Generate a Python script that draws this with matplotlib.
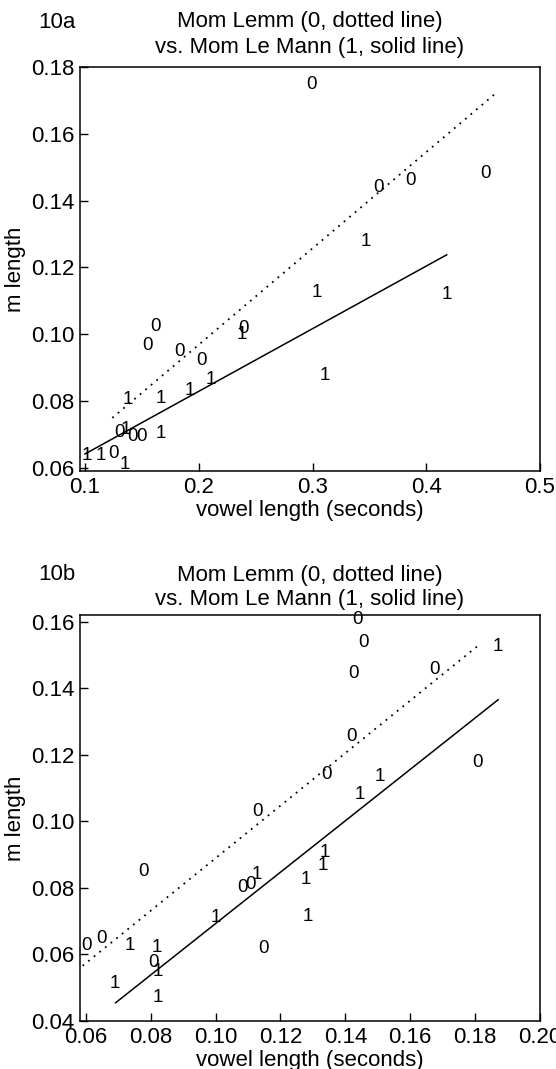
import matplotlib
matplotlib.use("Agg")
import matplotlib.pyplot as plt

plt.rcParams['font.family'] = ['Liberation Sans', 'DejaVu Sans']

# ---------------- Figure 10a data ----------------
a_lemm_x = [0.299, 0.358, 0.386, 0.452, 0.162, 0.155, 0.183, 0.202, 0.239,
            0.130, 0.142, 0.150, 0.125]
a_lemm_y = [0.1749, 0.1439, 0.1460, 0.1480, 0.1024, 0.0967, 0.0949, 0.0922, 0.1018,
            0.0705, 0.0693, 0.0693, 0.0642]
a_mann_x = [0.347, 0.304, 0.418, 0.238, 0.138, 0.167, 0.192, 0.211, 0.311,
            0.136, 0.167, 0.102, 0.114, 0.135]
a_mann_y = [0.1277, 0.1126, 0.1120, 0.1000, 0.0805, 0.0808, 0.0832, 0.0865, 0.0877,
            0.0714, 0.0702, 0.0636, 0.0636, 0.0609]
a_fit_lemm_x = [0.124, 0.462]
a_fit_lemm_y = [0.0750, 0.1724]
a_fit_mann_x = [0.100, 0.418]
a_fit_mann_y = [0.0642, 0.1238]
a_xticks = [0.1, 0.2, 0.3, 0.4, 0.5]
a_xticklabels = ['0.1', '0.2', '0.3', '0.4', '0.5']
a_yticks = [0.06, 0.08, 0.10, 0.12, 0.14, 0.16, 0.18]
a_yticklabels = ['0.06', '0.08', '0.10', '0.12', '0.14', '0.16', '0.18']

# ---------------- Figure 10b data ----------------
b_lemm_x = [0.0778, 0.1083, 0.1108, 0.1148, 0.0603, 0.0649, 0.0809, 0.1437, 0.1455,
            0.1425, 0.1674, 0.1418, 0.1341, 0.1806, 0.1130]
b_lemm_y = [0.0848, 0.0800, 0.0809, 0.0617, 0.0626, 0.0647, 0.0574, 0.1606, 0.1537,
            0.1444, 0.1456, 0.1254, 0.1140, 0.1176, 0.1029]
b_mann_x = [0.1126, 0.1277, 0.1329, 0.1338, 0.1283, 0.1000, 0.0735, 0.0818, 0.0822,
            0.0689, 0.0822, 0.1871, 0.1505, 0.1446]
b_mann_y = [0.0839, 0.0824, 0.0866, 0.0905, 0.0713, 0.0710, 0.0626, 0.0620, 0.0547,
            0.0511, 0.0469, 0.1525, 0.1134, 0.1080]
b_fit_lemm_x = [0.059, 0.1812]
b_fit_lemm_y = [0.0565, 0.1531]
b_fit_mann_x = [0.0692, 0.1871]
b_fit_mann_y = [0.0454, 0.1366]
b_xticks = [0.06, 0.08, 0.10, 0.12, 0.14, 0.16, 0.18, 0.20]
b_xticklabels = ['0.06', '0.08', '0.10', '0.12', '0.14', '0.16', '0.18', '0.20']
b_yticks = [0.04, 0.06, 0.08, 0.10, 0.12, 0.14, 0.16]
b_yticklabels = ['0.04', '0.06', '0.08', '0.10', '0.12', '0.14', '0.16']

title1 = 'Mom Lemm (0, dotted line)'
title2 = 'vs. Mom Le Mann (1, solid line)'

W, H = 556, 1069
fig = plt.figure(figsize=(W / 100, H / 100), dpi=100)

FS = 16
MFS = 13.5


def px_axes(l, t, r, b):
    return fig.add_axes([l / W, 1 - b / H, (r - l) / W, (b - t) / H])


def draw(ax, lx, ly, mx, my, flx, fly, fmx, fmy, xt, xtl, yt, ytl, xlim, ylim):
    ax.set_xlim(*xlim)
    ax.set_ylim(*ylim)
    for x, y in zip(lx, ly):
        ax.text(x, y, '0', ha='center', va='center', fontsize=MFS)
    for x, y in zip(mx, my):
        ax.text(x, y, '1', ha='center', va='center', fontsize=MFS)
    ax.plot(flx, fly, color='black', lw=1.3, linestyle=(0, (1, 3)))
    ax.plot(fmx, fmy, color='black', lw=1.1, linestyle='-')
    ax.set_xticks(xt)
    ax.set_xticklabels(xtl)
    ax.set_yticks(yt)
    ax.set_yticklabels(ytl)
    ax.tick_params(direction='in', length=6, width=1, labelsize=FS,
                   top=False, right=False)
    ax.tick_params(axis='x', pad=4)
    ax.tick_params(axis='y', pad=4)
    for s in ax.spines.values():
        s.set_linewidth(1.1)
    ax.set_xlabel('vowel length (seconds)', fontsize=FS, labelpad=1.5)
    ax.set_ylabel('m length', fontsize=FS, labelpad=4)


ax1 = px_axes(80, 67, 540, 471)
draw(ax1, a_lemm_x, a_lemm_y, a_mann_x, a_mann_y, a_fit_lemm_x, a_fit_lemm_y,
     a_fit_mann_x, a_fit_mann_y, a_xticks, a_xticklabels, a_yticks, a_yticklabels,
     (0.0956, 0.5), (0.0591, 0.18))

ax2 = px_axes(80, 615, 540, 1021)
draw(ax2, b_lemm_x, b_lemm_y, b_mann_x, b_mann_y, b_fit_lemm_x, b_fit_lemm_y,
     b_fit_mann_x, b_fit_mann_y, b_xticks, b_xticklabels, b_yticks, b_yticklabels,
     (0.0582, 0.2), (0.0399, 0.1621))

fig.text(38 / W, 1 - 22 / H, '10a', fontsize=FS, ha='left', va='center')
fig.text(310 / W, 1 - 22 / H, title1, fontsize=FS, ha='center', va='center')
fig.text(310 / W, 1 - 48 / H, title2, fontsize=FS, ha='center', va='center')

fig.text(38 / W, 1 - 575 / H, '10b', fontsize=FS, ha='left', va='center')
fig.text(310 / W, 1 - 575 / H, title1, fontsize=FS, ha='center', va='center')
fig.text(310 / W, 1 - 600 / H, title2, fontsize=FS, ha='center', va='center')

fig.savefig('out.png', dpi=100)
